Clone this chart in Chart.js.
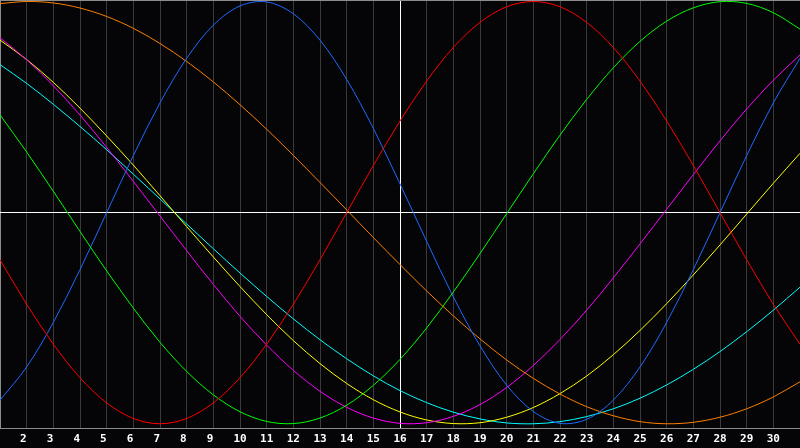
<!DOCTYPE html>
<html>
<head>
<meta charset="utf-8">
<script src="https://cdn.jsdelivr.net/npm/chart.js@4/dist/chart.umd.min.js"></script>
<style>
  html, body { margin: 0; padding: 0; background: #050508; }
  #wrap { width: 800px; height: 448px; position: relative; }
</style>
</head>
<body>
<div id="wrap"><canvas id="bio-chart"></canvas></div>
<script>
// days of the month shown on the x axis
const days = [1,2,3,4,5,6,7,8,9,10,11,12,13,14,15,16,17,18,19,20,21,22,23,24,25,26,27,28,29,30,31];

// curve values, one per day (-1 .. 1)
const red = [-0.223,-0.434,-0.623,-0.782,-0.901,-0.975,-1.000,-0.975,-0.901,-0.782,-0.623,-0.434,-0.223,0.000,0.223,0.434,
  0.623,0.782,0.901,0.975,1.000,0.975,0.901,0.782,0.623,0.434,0.223,0.000,-0.223,-0.434,-0.623];
const green = [0.463,0.287,0.101,-0.089,-0.276,-0.452,-0.614,-0.752,-0.863,-0.943,-0.989,-0.999,-0.973,-0.912,-0.818,-0.695,
  -0.546,-0.376,-0.194,-0.005,0.184,0.367,0.536,0.686,0.811,0.907,0.970,0.999,0.991,0.947,0.869];
const blue = [-0.888,-0.731,-0.520,-0.270,0.000,0.270,0.520,0.731,0.888,0.979,0.998,0.942,0.817,0.631,0.399,0.136,
  -0.136,-0.399,-0.631,-0.817,-0.942,-0.998,-0.979,-0.888,-0.731,-0.520,-0.270,0.000,0.270,0.520,0.731];
const orange = [0.990,1.000,0.993,0.969,0.929,0.873,0.801,0.716,0.619,0.511,0.395,0.271,0.143,0.013,-0.118,-0.246,
  -0.371,-0.489,-0.598,-0.698,-0.785,-0.859,-0.919,-0.962,-0.990,-1.000,-0.993,-0.969,-0.929,-0.873,-0.801];
const magenta = [0.828,0.724,0.601,0.462,0.309,0.148,-0.016,-0.180,-0.340,-0.491,-0.627,-0.747,-0.846,-0.922,-0.973,-0.998,
  -0.995,-0.965,-0.909,-0.828,-0.724,-0.601,-0.462,-0.309,-0.148,0.016,0.180,0.340,0.491,0.627,0.747];
const yellow = [0.817,0.725,0.617,0.495,0.363,0.225,0.080,-0.066,-0.210,-0.350,-0.483,-0.606,-0.715,-0.809,-0.886,-0.944,
  -0.982,-0.999,-0.995,-0.969,-0.923,-0.857,-0.774,-0.673,-0.558,-0.431,-0.295,-0.153,-0.007,0.139,0.281];
const cyan = [0.701,0.612,0.513,0.408,0.298,0.182,0.065,-0.054,-0.171,-0.286,-0.397,-0.503,-0.602,-0.692,-0.773,-0.843,
  -0.900,-0.945,-0.977,-0.996,-1.000,-0.990,-0.966,-0.929,-0.879,-0.816,-0.742,-0.658,-0.564,-0.462,-0.353];

// tick labels under the axis (first and last day unlabelled)
const tickLabels = ['','2','3','4','5','6','7','8','9','10','11','12','13','14','15','16','17','18','19','20','21','22','23',
  '24','25','26','27','28','29','30',''];

const Y_MIN = -1.02, Y_MAX = 1.007;
const FRAME = '#8c8c8c', GRID = '#3a3a3a', AXIS = '#ffffff';

function series(values, color) {
  return {
    data: values.map((v, i) => ({ x: days[i], y: v })),
    borderColor: color,
    borderWidth: 1,
    pointRadius: 0,
    pointHoverRadius: 0,
    fill: false,
    tension: 0.33
  };
}

new Chart(document.getElementById('bio-chart'), {
  type: 'line',
  data: {
    datasets: [
      series(red, '#ff0000'),
      series(green, '#00ff00'),
      series(blue, '#1e6bff'),
      series(orange, '#ff7f00'),
      series(magenta, '#ff00ff'),
      series(yellow, '#ffff00'),
      series(cyan, '#00ffff')
    ]
  },
  options: {
    responsive: true,
    maintainAspectRatio: false,
    animation: false,
    layout: { padding: 0, autoPadding: false },
    plugins: { legend: { display: false }, tooltip: { enabled: false } },
    scales: {
      x: {
        type: 'linear',
        min: 1,
        max: 31,
        afterBuildTicks: axis => { axis.ticks = days.map(d => ({ value: d })); },
        grid: {
          drawTicks: true,
          tickLength: 2,
          tickColor: 'transparent',
          color: ctx => ctx.tick.value === 16 ? AXIS : (ctx.tick.value === 1 ? FRAME : GRID)
        },
        border: { display: true, color: FRAME },
        ticks: {
          autoSkip: false,
          maxRotation: 0,
          padding: 0,
          color: '#ffffff',
          font: { family: 'DejaVu Sans Mono', size: 11, weight: 'bold', lineHeight: '18px' },
          // single digits sit a little left of their grid line in the original
          callback: (v, i) => tickLabels[i].length === 1 ? tickLabels[i] + ' ' : tickLabels[i]
        }
      },
      y: {
        min: Y_MIN,
        max: Y_MAX,
        afterBuildTicks: axis => { axis.ticks = [{ value: Y_MIN }, { value: 0 }, { value: Y_MAX }]; },
        grid: {
          drawTicks: false,
          color: ctx => ctx.tick.value === 0 ? AXIS : FRAME
        },
        border: { display: false },
        ticks: { display: false }
      }
    }
  }
});
</script>
</body>
</html>
